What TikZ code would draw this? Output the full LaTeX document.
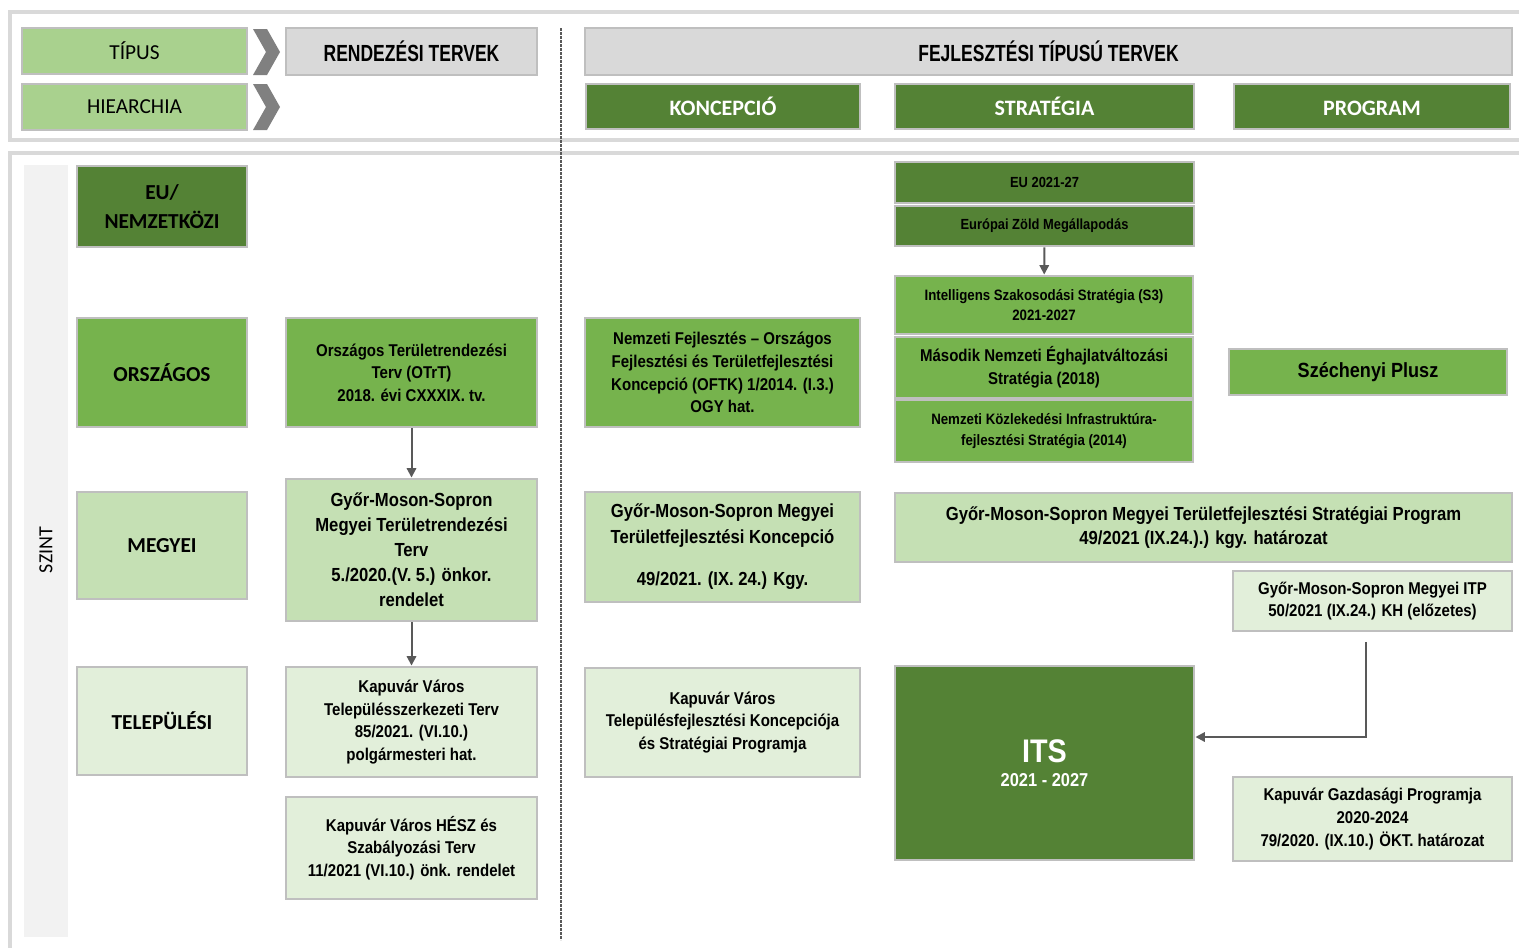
\documentclass[tikz,border=0pt]{standalone}
\usepackage{fontspec}
\setmainfont{Liberation Sans}
\newfontfamily\narrowfont[FakeStretch=0.88]{Liberation Sans}
\newfontfamily\headfont[FakeStretch=0.75]{Liberation Sans}
\newfontfamily\calfont{Carlito}
\usetikzlibrary{arrows.meta}
\definecolor{dkgreen}{HTML}{548235}
\definecolor{mdgreen}{HTML}{76B34D}
\definecolor{ltgreen}{HTML}{C5E0B4}
\definecolor{palegreen}{HTML}{E2EFDA}
\definecolor{tagreen}{HTML}{A9D18E}
\definecolor{boxgray}{HTML}{BFBFBF}
\definecolor{hdrgray}{HTML}{D9D9D9}
\definecolor{arrgray}{HTML}{595959}
\definecolor{chevgray}{HTML}{808080}
\definecolor{stripgray}{HTML}{F2F2F2}

\begin{document}
\begin{tikzpicture}[x=0.75pt,y=0.75pt,yscale=-1,xscale=1,
	spot/.style n args={4}{at={({(#1+#3)/2},{(#2+#4)/2})}, minimum width={(#3-#1)*0.75pt}, minimum height={(#4-#2)*0.75pt}},
	box/.style={draw=boxgray, line width=2.2pt, inner sep=0pt, align=center, font=\narrowfont\bfseries\fontsize{12.8}{17}\selectfont},
	lvlbox/.style={box, font=\calfont\bfseries\fontsize{16}{22}\selectfont},
	hdrbox/.style={box, fill=hdrgray, font=\headfont\bfseries\fontsize{17.5}{20}\selectfont},
	typebox/.style={box, fill=dkgreen, text=white, text height=13.5pt, text depth=0pt, font=\calfont\bfseries\fontsize{16.5}{18}\selectfont},
	lnk/.style={draw=arrgray, line width=1.5pt, -{Triangle[length=7pt,width=7pt]}}]
	\useasboundingbox (0,0) rectangle (1519,947);
	% frames
	\draw [hdrgray, line width=2.5pt] (10,12) rectangle (1540,140);
	\draw [hdrgray, line width=2.5pt] (10,153) rectangle (1540,970);
	\fill [stripgray] (24,165) rectangle (68,937);
	\draw [arrgray, line width=0.8pt, dash pattern=on 2pt off 1pt] (561,28) -- (561,940);
	\node [rotate=90, font=\calfont\fontsize{15}{18}\selectfont] (szint) at (46,550) {SZINT};
	% header row
	\node [box, fill=tagreen, font=\calfont\fontsize{16}{18}\selectfont, spot={22}{28}{247}{74}] (tipus) {TÍPUS};
	\node [box, fill=tagreen, font=\calfont\fontsize{16}{18}\selectfont, spot={22}{84}{247}{130}] (hier) {HIEARCHIA};
	\fill [chevgray] (253,29) -- (267,29) -- (280,52) -- (267,75) -- (253,75) -- (266,52) -- cycle;
	\fill [chevgray] (253,84) -- (267,84) -- (280,107) -- (267,130) -- (253,130) -- (266,107) -- cycle;
	\node [hdrbox, spot={286}{28}{537}{75}] (rendez) {RENDEZÉSI TERVEK};
	\node [hdrbox, spot={585}{28}{1512}{75}] (fejl) {FEJLESZTÉSI TÍPUSÚ TERVEK};
	\node [typebox, spot={586}{84}{860}{129}] (konc) {KONCEPCIÓ};
	\node [typebox, spot={895}{84}{1194}{129}] (strat) {STRATÉGIA};
	\node [typebox, spot={1234}{84}{1510}{129}] (prog) {PROGRAM};
	% levels
	\node [lvlbox, fill=dkgreen, spot={77}{166}{247}{247}] (eu) {EU/\\NEMZETKÖZI};
	\node [lvlbox, fill=mdgreen, spot={77}{318}{247}{427}] (orsz) {ORSZÁGOS};
	\node [lvlbox, fill=ltgreen, spot={77}{492}{247}{599}] (megy) {MEGYEI};
	\node [lvlbox, fill=palegreen, spot={77}{667}{247}{775}] (telep) {TELEPÜLÉSI};
	% rendezesi tervek
	\node [box, fill=mdgreen, spot={286}{318}{537}{427}] (otrt) {Országos Területrendezési\\Terv (OTrT)\\2018. évi CXXXIX. tv.};
	\node [box, fill=ltgreen, font=\narrowfont\bfseries\fontsize{14.2}{18.7}\selectfont, spot={286}{479}{537}{621}] (mtrt) {Győr-Moson-Sopron\\Megyei Területrendezési\\Terv\\5./2020.(V. 5.) önkor.\\rendelet};
	\node [box, fill=palegreen, spot={286}{667}{537}{777}] (tszt) {Kapuvár Város\\Településszerkezeti Terv\\85/2021. (VI.10.)\\polgármesteri hat.};
	\node [box, fill=palegreen, spot={286}{797}{537}{899}] (hesz) {Kapuvár Város HÉSZ és\\Szabályozási Terv\\11/2021 (VI.10.) önk. rendelet};
	% koncepciok
	\node [box, fill=mdgreen, spot={585}{318}{860}{427}] (oftk) {Nemzeti Fejlesztés – Országos\\Fejlesztési és Területfejlesztési\\Koncepció (OFTK) 1/2014. (I.3.)\\OGY hat.};
	\node [box, fill=ltgreen, font=\narrowfont\bfseries\fontsize{14.2}{19.5}\selectfont, spot={585}{492}{860}{602}] (mtk) {Győr-Moson-Sopron Megyei\\Területfejlesztési Koncepció\\[12pt]49/2021. (IX. 24.) Kgy.};
	\node [box, fill=palegreen, spot={585}{668}{860}{777}] (tfk) {Kapuvár Város\\Településfejlesztési Koncepciója\\és Stratégiai Programja};
	% strategiak
	\node [box, fill=dkgreen, font=\narrowfont\bfseries\fontsize{11}{13}\selectfont, spot={895}{162}{1194}{203}] (eu27) {EU 2021-27};
	\node [box, fill=dkgreen, font=\narrowfont\bfseries\fontsize{11}{13}\selectfont, spot={895}{206}{1194}{246}] (zold) {Európai Zöld Megállapodás};
	\node [box, fill=mdgreen, font=\narrowfont\bfseries\fontsize{11.3}{15}\selectfont, spot={895}{276}{1193}{334}] (s3) {Intelligens Szakosodási Stratégia (S3)\\2021-2027};
	\node [box, fill=mdgreen, font=\narrowfont\bfseries\fontsize{12.8}{17}\selectfont, spot={895}{337}{1193}{398}] (nes) {Második Nemzeti Éghajlatváltozási\\Stratégia (2018)};
	\node [box, fill=mdgreen, font=\narrowfont\bfseries\fontsize{11.3}{15.5}\selectfont, spot={895}{400}{1193}{462}] (nkis) {Nemzeti Közlekedési Infrastruktúra-\\fejlesztési Stratégia (2014)};
	\node [box, fill=ltgreen, font=\narrowfont\bfseries\fontsize{14.2}{18}\selectfont, spot={895}{493}{1512}{562}] (tsp) {Győr-Moson-Sopron Megyei Területfejlesztési Stratégiai Program\\49/2021 (IX.24.).) kgy. határozat};
	\node [box, fill=dkgreen, text=white, font=\narrowfont\bfseries\fontsize{14}{18}\selectfont, spot={895}{666}{1194}{860}] (its) {{\fontsize{24.5}{28}\selectfont ITS}\\2021 - 2027};
	% programok
	\node [box, fill=mdgreen, font=\narrowfont\bfseries\fontsize{15.4}{20}\selectfont, spot={1229}{349}{1507}{395}] (szp) {Széchenyi Plusz};
	\node [box, fill=palegreen, spot={1233}{571}{1512}{631}] (itp) {Győr-Moson-Sopron Megyei ITP\\50/2021 (IX.24.) KH (előzetes)};
	\node [box, fill=palegreen, spot={1233}{777}{1512}{861}] (gp) {Kapuvár Gazdasági Programja\\2020-2024\\79/2020. (IX.10.) ÖKT. határozat};
	% arrows
	\draw [lnk] (otrt) -- (mtrt);
	\draw [lnk] (mtrt) -- (tszt);
	\draw [lnk] (zold) -- (s3);
	\coordinate (itsin) at (its.east |- 0,737);
	\draw [lnk, shorten <=7pt] ([xshift=-5pt]itp.south) |- (itsin);
\end{tikzpicture}
\end{document}
